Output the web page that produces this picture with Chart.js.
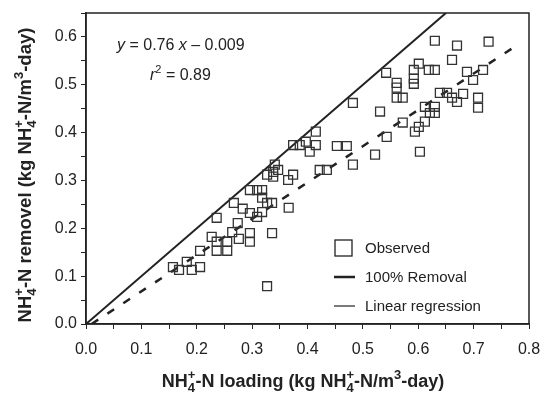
<!DOCTYPE html>
<html>
<head>
<meta charset="utf-8">
<script src="https://cdn.jsdelivr.net/npm/chart.js@4.4.1/dist/chart.umd.min.js"></script>
<style>
  body { margin: 0; background: #fff; }
  #c { display: block; }
</style>
</head>
<body>
<canvas id="c" width="541" height="402"></canvas>
<script>
// observed points (kg NH4+-N/m3-day)
const loading = [0.157,0.168,0.182,0.191,0.206,0.206,0.227,0.236,0.236,0.236,0.255,0.255,0.264,0.267,0.274,0.276,0.283,0.296,0.296,0.296,
  0.309,0.296,0.309,0.318,0.318,0.318,0.327,0.336,0.336,0.327,0.327,0.338,0.338,0.347,0.341,0.365,0.374,0.366,0.374,0.386,
  0.397,0.404,0.415,0.415,0.422,0.435,0.453,0.471,0.482,0.482,0.522,0.531,0.542,0.543,0.561,0.561,0.561,0.572,0.572,0.592,
  0.592,0.592,0.601,0.594,0.601,0.603,0.612,0.612,0.621,0.630,0.630,0.619,0.630,0.630,0.639,0.652,0.661,0.661,0.670,0.670,
  0.681,0.688,0.699,0.717,0.708,0.708,0.727];
const removal = [0.119,0.113,0.130,0.113,0.119,0.153,0.182,0.172,0.153,0.222,0.172,0.153,0.192,0.253,0.211,0.178,0.241,0.190,0.172,0.232,
  0.224,0.280,0.280,0.280,0.264,0.234,0.253,0.253,0.190,0.079,0.312,0.318,0.308,0.322,0.333,0.301,0.312,0.243,0.374,0.374,
  0.381,0.360,0.374,0.402,0.322,0.322,0.372,0.372,0.333,0.462,0.354,0.444,0.525,0.391,0.504,0.494,0.473,0.473,0.421,0.531,
  0.513,0.502,0.544,0.402,0.412,0.360,0.423,0.454,0.441,0.454,0.441,0.531,0.531,0.592,0.483,0.483,0.552,0.473,0.582,0.464,
  0.481,0.527,0.510,0.531,0.473,0.452,0.590];

// 100% removal line and regression line end points
const idealX = [0.0, 0.65];
const idealY = [0.0, 0.65];
const regX = [0.01, 0.78];
const regY = [0.0, 0.584];

const xTickLabels = ['0.0','0.1','0.2','0.3','0.4','0.5','0.6','0.7','0.8'];
const yTickLabels = ['0.0','0.1','0.2','0.3','0.4','0.5','0.6'];

const ink = '#222';
const FONT = "'Liberation Sans', Arial, sans-serif";

const pts = (xs, ys) => xs.map((x, i) => ({x: x, y: ys[i]}));

// draw text with sub/superscripts, parts = [text, kind]
function rich(ctx, parts, x, y, size, weight, center) {
  const fontOf = (k, s) => (k === 'i' ? 'italic ' : '') + weight + ' ' + s + 'px ' + FONT;
  const small = Math.round(size * 0.7);
  const widthOf = p => {
    if (p[1] === 'ss') {
      ctx.font = fontOf('', small);
      return Math.max(ctx.measureText(p[0][0]).width, ctx.measureText(p[0][1]).width);
    }
    ctx.font = fontOf(p[1], p[1] === 'sup' || p[1] === 'sub' ? small : size);
    return ctx.measureText(p[0]).width;
  };
  let total = 0;
  parts.forEach(p => total += widthOf(p));
  let cx = center ? x - total / 2 : x;
  ctx.textBaseline = 'alphabetic';
  ctx.textAlign = 'left';
  parts.forEach(p => {
    const w = widthOf(p);
    if (p[1] === 'ss') {
      ctx.font = fontOf('', small);
      ctx.fillText(p[0][0], cx, y + size * 0.25);
      ctx.fillText(p[0][1], cx, y - size * 0.42);
    } else {
      ctx.font = fontOf(p[1], p[1] === 'sup' || p[1] === 'sub' ? small : size);
      const dy = p[1] === 'sub' ? size * 0.25 : p[1] === 'sup' ? -size * 0.42 : 0;
      ctx.fillText(p[0], cx, y + dy);
    }
    cx += w;
  });
}

const decor = {
  id: 'decor',
  afterDraw(chart) {
    const ctx = chart.ctx;
    const a = chart.chartArea;
    ctx.save();
    ctx.strokeStyle = ink;
    ctx.lineWidth = 1.5;
    ctx.strokeRect(a.left, a.top, a.right - a.left, a.bottom - a.top);
    ctx.fillStyle = ink;

    // equation
    rich(ctx, [['y','i'],[' = 0.76 ',''],['x','i'],[' \u2013 0.009','']], 117, 50, 16, 'normal', false);
    rich(ctx, [['r','i'],['2','sup'],[' = 0.89','']], 150, 80, 16, 'normal', false);

    // axis titles
    const unit = [['NH',''],['4+','ss'],['-N ',''],['LBL',''],[' (kg NH',''],['4+','ss'],['-N/m',''],['3','sup'],['-day)','']];
    const xt = unit.map(p => p[0] === 'LBL' ? ['loading',''] : p);
    const yt = unit.map(p => p[0] === 'LBL' ? ['removel',''] : p);
    rich(ctx, xt, 303, 387, 18, 'bold', true);
    ctx.translate(31, 175);
    ctx.rotate(-Math.PI / 2);
    rich(ctx, yt, 0, 0, 18.5, 'bold', true);
    ctx.setTransform(1, 0, 0, 1, 0, 0);

    // legend
    ctx.lineWidth = 1.3;
    ctx.strokeRect(335, 240, 17, 16);
    ctx.beginPath();
    ctx.lineWidth = 2.5;
    ctx.moveTo(334, 277); ctx.lineTo(355, 277);
    ctx.stroke();
    ctx.beginPath();
    ctx.lineWidth = 1.2;
    ctx.moveTo(334, 306); ctx.lineTo(355, 306);
    ctx.stroke();
    ctx.font = '15px ' + FONT;
    ctx.textBaseline = 'middle';
    ctx.fillText('Observed', 365, 249);
    ctx.fillText('100% Removal', 365, 278);
    ctx.fillText('Linear regression', 365, 307);
    ctx.restore();
  }
};

new Chart(document.getElementById('c'), {
  type: 'scatter',
  data: {
    datasets: [{
      label: 'Observed',
      data: pts(loading, removal),
      pointStyle: 'rect',
      pointRadius: 6.3,
      pointBorderWidth: 1.3,
      borderColor: '#333',
      backgroundColor: 'rgba(0,0,0,0)'
    }, {
      label: '100% Removal',
      data: pts(idealX, idealY),
      showLine: true,
      pointRadius: 0,
      borderColor: ink,
      borderWidth: 2
    }, {
      label: 'Linear regression',
      data: pts(regX, regY),
      showLine: true,
      pointRadius: 0,
      borderColor: ink,
      borderWidth: 2.5,
      borderDash: [8, 11]
    }]
  },
  options: {
    responsive: false,
    animation: false,
    layout: { padding: { top: 13, right: 12 } },
    plugins: { legend: { display: false }, tooltip: { enabled: false } },
    scales: {
      x: {
        min: 0, max: 0.8,
        afterFit: s => { s.height = 78; s.paddingLeft = 0; s.paddingRight = 0; },
        border: { color: ink, width: 1.5 },
        grid: { drawOnChartArea: false, tickLength: 5, color: ink },
        ticks: {
          stepSize: 0.05, color: ink, padding: 11,
          font: { family: FONT, size: 16 },
          maxRotation: 0, autoSkip: false,
          callback: v => { const i = Math.round(v * 20); return i % 2 ? '' : xTickLabels[i / 2]; }
        }
      },
      y: {
        min: 0, max: 0.65,
        afterFit: s => { s.width = 86; s.paddingTop = 0; s.paddingBottom = 0; },
        border: { color: ink, width: 1.5 },
        grid: { drawOnChartArea: false, tickLength: 5, color: ink },
        ticks: {
          stepSize: 0.05, color: ink, padding: 4,
          font: { family: FONT, size: 16 },
          autoSkip: false,
          callback: v => { const i = Math.round(v * 20); return i % 2 ? '' : yTickLabels[i / 2]; }
        }
      }
    }
  },
  plugins: [decor]
});
</script>
</body>
</html>
